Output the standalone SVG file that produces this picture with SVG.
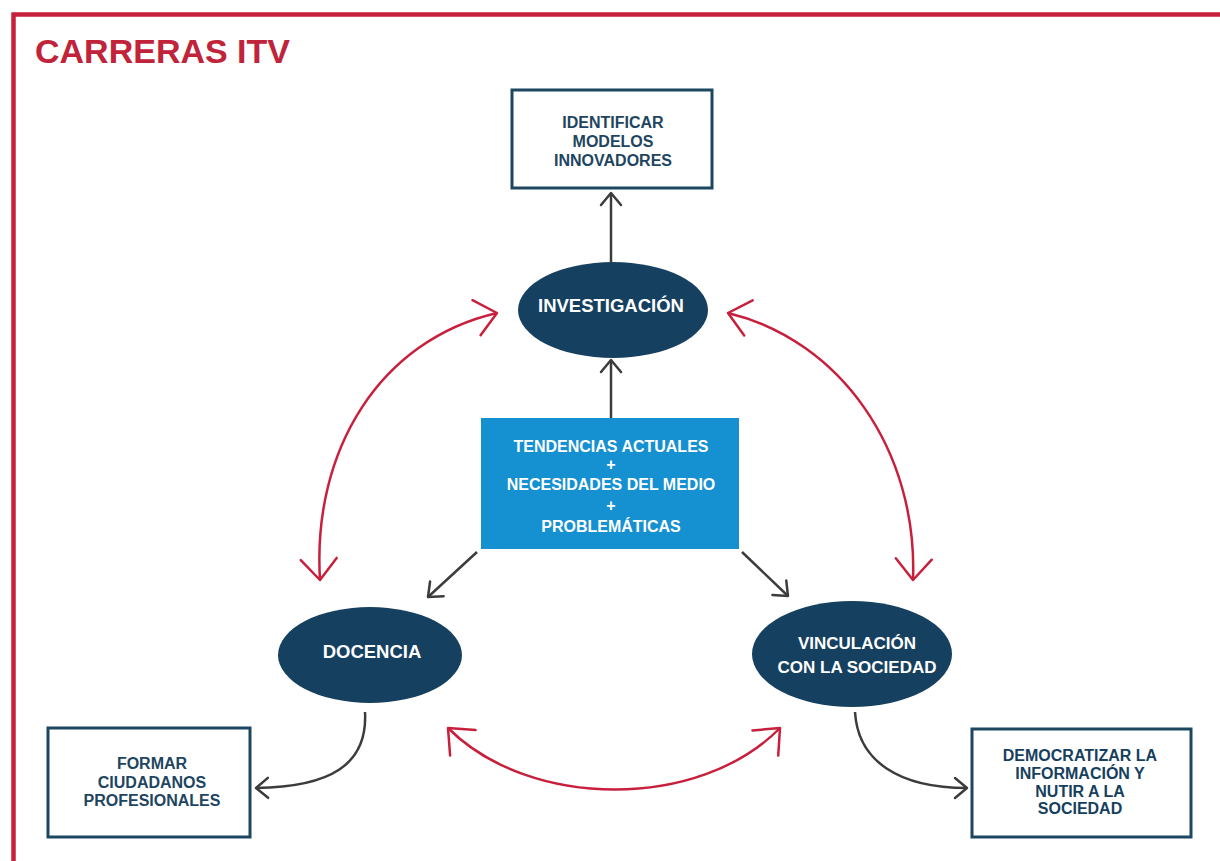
<svg xmlns="http://www.w3.org/2000/svg" width="1220" height="861" viewBox="0 0 1220 861">
  <style>
    text { font-family: "Liberation Sans", Arial, sans-serif; font-weight: bold; text-anchor: middle; }
    .box { fill: #ffffff; stroke: #1d4660; stroke-width: 3; }
    .boxtxt { fill: #1e4560; font-size: 16px; }
    .ell { fill: #15405f; }
    .elltxt { fill: #ffffff; font-size: 18.5px; }
    .bluetxt { fill: #ffffff; font-size: 16px; }
    .gray { fill: none; stroke: #3c3c3c; stroke-width: 2.5; marker-end: url(#ga); }
    .red { fill: none; stroke: #c8203c; stroke-width: 2.5; marker-start: url(#ra); marker-end: url(#ra); }
  </style>
  <defs>
    <marker id="ga" markerUnits="userSpaceOnUse" viewBox="0 0 16 24" refX="14" refY="12" markerWidth="16" markerHeight="24" orient="auto">
      <path d="M2,2 L14,12 L2,22" fill="none" stroke="#3c3c3c" stroke-width="2.5" stroke-linecap="round" stroke-linejoin="round"/>
    </marker>
    <marker id="ra" markerUnits="userSpaceOnUse" viewBox="0 0 26 42" refX="23" refY="21" markerWidth="26" markerHeight="42" orient="auto-start-reverse">
      <path d="M2,3 L23,21 L2,39" fill="none" stroke="#c8203c" stroke-width="2.5" stroke-linecap="round" stroke-linejoin="round"/>
    </marker>
  </defs>
  <rect width="1220" height="861" fill="#ffffff"/>
  <path d="M13.5,861 L13.5,14.5 L1220,14.5" fill="none" stroke="#c8203c" stroke-width="4.5"/>
  <text x="35" y="63" text-anchor="start" style="text-anchor:start;font-size:34px;fill:#c0233a">CARRERAS ITV</text>

  <g id="connectors">
    <path class="gray" d="M611,262 L611,193"/>
    <path class="gray" d="M611,418 L611,360"/>
    <path class="gray" d="M477,552 L428,597"/>
    <path class="gray" d="M742,552 L788,596"/>
    <path class="gray" d="M365,712 C368,765 330,787 256,788"/>
    <path class="gray" d="M855,712 C858,762 900,788 967,788"/>
    <path class="red" d="M320,580 C312,450 380,340 497,313"/>
    <path class="red" d="M728,313 C840,340 918,450 913,580"/>
    <path class="red" d="M448,728 C530,810 700,810 780,728"/>
  </g>

  <g id="identificar">
    <rect class="box" x="512" y="90" width="200" height="98"/>
    <text class="boxtxt" x="613" y="128">IDENTIFICAR</text>
    <text class="boxtxt" x="613" y="147">MODELOS</text>
    <text class="boxtxt" x="613" y="166">INNOVADORES</text>
  </g>

  <g id="investigacion">
    <ellipse class="ell" cx="613" cy="310" rx="95" ry="48"/>
    <text class="elltxt" x="611" y="312">INVESTIGACIÓN</text>
  </g>

  <g id="tendencias">
    <rect x="481" y="418" width="258" height="131" fill="#1590d0"/>
    <text class="bluetxt" x="611" y="452">TENDENCIAS ACTUALES</text>
    <text class="bluetxt" x="611" y="470">+</text>
    <text class="bluetxt" x="611" y="490">NECESIDADES DEL MEDIO</text>
    <text class="bluetxt" x="611" y="511">+</text>
    <text class="bluetxt" x="611" y="532">PROBLEMÁTICAS</text>
  </g>

  <g id="docencia">
    <ellipse class="ell" cx="370" cy="655" rx="92" ry="48"/>
    <text class="elltxt" x="372" y="658">DOCENCIA</text>
  </g>

  <g id="vinculacion">
    <ellipse class="ell" cx="852" cy="654" rx="100" ry="53"/>
    <text class="elltxt" x="857" y="649" style="font-size:17px">VINCULACIÓN</text>
    <text class="elltxt" x="857" y="673" style="font-size:17px">CON LA SOCIEDAD</text>
  </g>

  <g id="formar">
    <rect class="box" x="48" y="728" width="202" height="109"/>
    <text class="boxtxt" x="152" y="769">FORMAR</text>
    <text class="boxtxt" x="152" y="788">CIUDADANOS</text>
    <text class="boxtxt" x="152" y="806">PROFESIONALES</text>
  </g>

  <g id="democratizar">
    <rect class="box" x="972" y="729" width="219" height="108"/>
    <text class="boxtxt" x="1080" y="761" style="fill:#163f5e">DEMOCRATIZAR LA</text>
    <text class="boxtxt" x="1080" y="779" style="fill:#163f5e">INFORMACIÓN Y</text>
    <text class="boxtxt" x="1080" y="797" style="fill:#163f5e">NUTIR A LA</text>
    <text class="boxtxt" x="1080" y="814" style="fill:#163f5e">SOCIEDAD</text>
  </g>
</svg>
